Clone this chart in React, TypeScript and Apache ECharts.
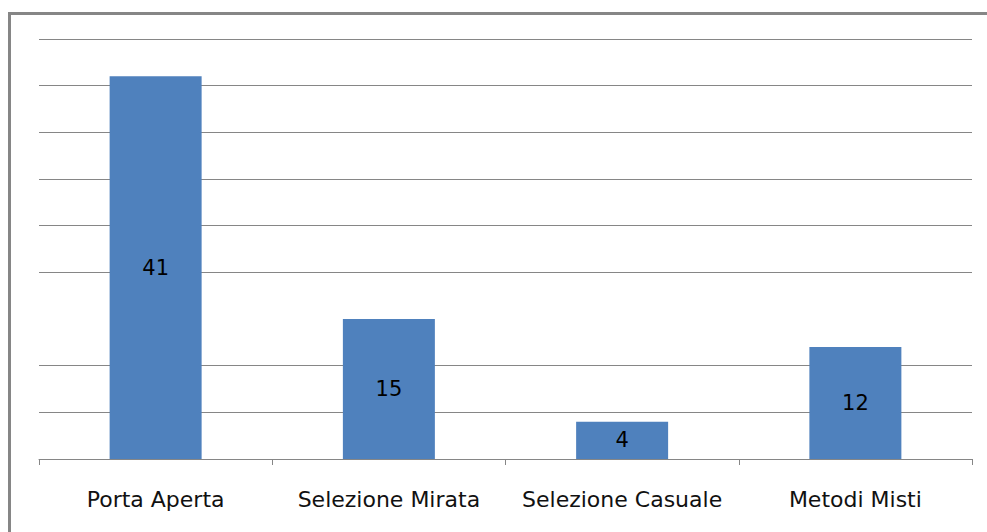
import React, { useEffect, useRef } from "react";
import * as echarts from "echarts";

const categories = ["Porta Aperta", "Selezione Mirata", "Selezione Casuale", "Metodi Misti"];
const values = [41, 15, 4, 12];
const gridValues = [5, 10, 20, 25, 30, 35, 40, 45];
const yMax = 45;

export default function App() {
  const ref = useRef<HTMLDivElement>(null);
  useEffect(() => {
    const chart = echarts.init(ref.current!, null, { renderer: "svg" });
    const font = "'DejaVu Sans', sans-serif";
    chart.setOption({
      animation: false,
      backgroundColor: "#ffffff",
      grid: { left: 39, right: 15, top: 39, bottom: 73 },
      xAxis: {
        type: "category",
        data: categories,
        axisLine: { lineStyle: { color: "#868686", width: 1 } },
        axisTick: { show: true, interval: 0, length: 6, lineStyle: { color: "#868686" } },
        axisLabel: { interval: 0, color: "#111", fontFamily: font, fontSize: 22, margin: 29 },
      },
      yAxis: {
        type: "value",
        min: 0,
        max: yMax,
        interval: 5,
        axisLabel: { show: false },
        axisLine: { show: false },
        axisTick: { show: false },
        splitLine: { show: false },
      },
      graphic: [
        {
          type: "rect",
          shape: { x: 9.5, y: 13.5, width: 1200, height: 800 },
          style: { fill: "none", stroke: "#868686", lineWidth: 3 },
          silent: true,
        },
      ],
      series: [
        {
          type: "line",
          data: [],
          z: 1,
          silent: true,
          markLine: {
            z: 1,
            silent: true,
            symbol: "none",
            label: { show: false },
            lineStyle: { color: "#868686", width: 1, type: "solid" },
            data: gridValues.map((v) => ({ yAxis: v })),
          },
        },
        {
          type: "bar",
          data: values,
          z: 3,
          barWidth: 92,
          itemStyle: { color: "#4F81BD" },
          label: {
            show: true,
            position: "inside",
            color: "#000",
            fontFamily: font,
            fontSize: 21,
          },
        },
      ],
    });
    return () => chart.dispose();
  }, []);
  return (
    <div
      ref={ref}
      style={{ position: "fixed", left: 0, top: 0, width: 987, height: 532 }}
    />
  );
}
